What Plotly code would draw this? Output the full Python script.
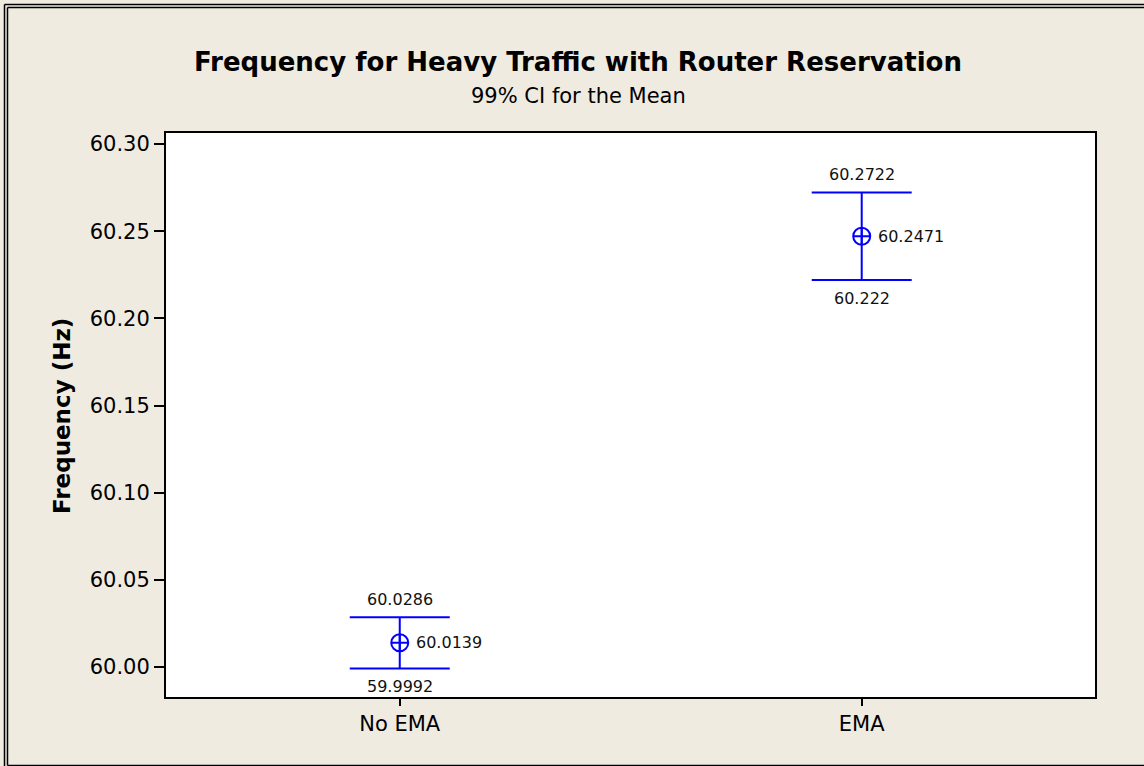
import plotly.graph_objects as go

# Confidence-interval summary per condition
groups = ["No EMA", "EMA"]
means = [60.0139, 60.2471]
upper = [60.0286, 60.2722]
lower = [59.9992, 60.222]

y_ticks = [60.00, 60.05, 60.10, 60.15, 60.20, 60.25, 60.30]
y_tick_text = ["60.00", "60.05", "60.10", "60.15", "60.20", "60.25", "60.30"]

W, H = 1144, 766
ML, MR, MT, MB = 166, 49, 133, 69
PW, PH = W - ML - MR, H - MT - MB

BG = "#EFEBE1"
BLUE = "#0000FF"
FONT = "DejaVu Sans"

fig = go.Figure()

fig.add_trace(go.Scatter(
    x=groups,
    y=means,
    mode="markers",
    marker=dict(symbol="circle-cross-open", size=17, color=BLUE,
                line=dict(width=2, color=BLUE)),
    error_y=dict(
        type="data",
        symmetric=False,
        array=[u - m for u, m in zip(upper, means)],
        arrayminus=[m - l for m, l in zip(means, lower)],
        color=BLUE,
        thickness=2,
        width=50,
    ),
    showlegend=False,
    hoverinfo="skip",
))

LBL = dict(family=FONT, size=16, color="#111")
annotations = []
for g, m, u, l in zip(groups, means, upper, lower):
    annotations.append(dict(x=g, y=u, text=f"{u:g}", showarrow=False,
                            yanchor="bottom", yshift=6, font=LBL))
    annotations.append(dict(x=g, y=l, text=f"{l:g}", showarrow=False,
                            yanchor="top", yshift=-7, font=LBL))
    annotations.append(dict(x=g, y=m, text=f"{m:g}", showarrow=False,
                            xanchor="left", xshift=14, font=LBL))

# Titles positioned in pixel space
def px_x(p):
    return (p - ML) / PW

def px_y(p):
    return 1 - (p - MT) / PH

annotations.append(dict(xref="paper", yref="paper", x=px_x(578), y=px_y(62),
                        text="<b>Frequency for Heavy Traffic with Router Reservation</b>",
                        showarrow=False, xanchor="center", yanchor="middle",
                        font=dict(family=FONT, size=26, color="#000")))
annotations.append(dict(xref="paper", yref="paper", x=px_x(578), y=px_y(96),
                        text="99% CI for the Mean",
                        showarrow=False, xanchor="center", yanchor="middle",
                        font=dict(family=FONT, size=21, color="#000")))
annotations.append(dict(xref="paper", yref="paper", x=px_x(62), y=px_y(416),
                        text="<b>Frequency (Hz)</b>", textangle=-90,
                        showarrow=False, xanchor="center", yanchor="middle",
                        font=dict(family=FONT, size=23, color="#000")))

# Double frame around the whole graph (top and left doubled, bottom single)
def frame_line(x0, y0, x1, y1):
    return dict(type="line", xref="paper", yref="paper",
                x0=px_x(x0), y0=px_y(y0), x1=px_x(x1), y1=px_y(y1),
                line=dict(color="#000", width=1.5), layer="below")

shapes = [
    frame_line(4.5, 4.5, W, 4.5),
    frame_line(7.5, 7.5, W, 7.5),
    frame_line(4.5, 4.5, 4.5, H),
    frame_line(7.5, 7.5, 7.5, 765.5),
    frame_line(7.5, 765.5, W, 765.5),
]

fig.update_layout(
    width=W, height=H,
    margin=dict(l=ML, r=MR, t=MT, b=MB, autoexpand=False),
    paper_bgcolor=BG,
    plot_bgcolor="#FFFFFF",
    annotations=annotations,
    shapes=shapes,
    xaxis=dict(
        type="category",
        range=[-0.506, 1.505],
        showgrid=False, zeroline=False,
        showline=True, linecolor="#000", linewidth=2, mirror=True,
        ticks="outside", ticklen=7, tickwidth=1.5, tickcolor="#000",
        tickfont=dict(family=FONT, size=21, color="#000"),
    ),
    yaxis=dict(
        range=[59.9828, 60.3063],
        tickvals=y_ticks, ticktext=y_tick_text,
        showgrid=False, zeroline=False,
        showline=True, linecolor="#000", linewidth=2, mirror=True,
        ticks="outside", ticklen=10, tickwidth=1.5, tickcolor="#000",
        tickfont=dict(family=FONT, size=21, color="#000"),
    ),
)

fig.write_html("out.html")
